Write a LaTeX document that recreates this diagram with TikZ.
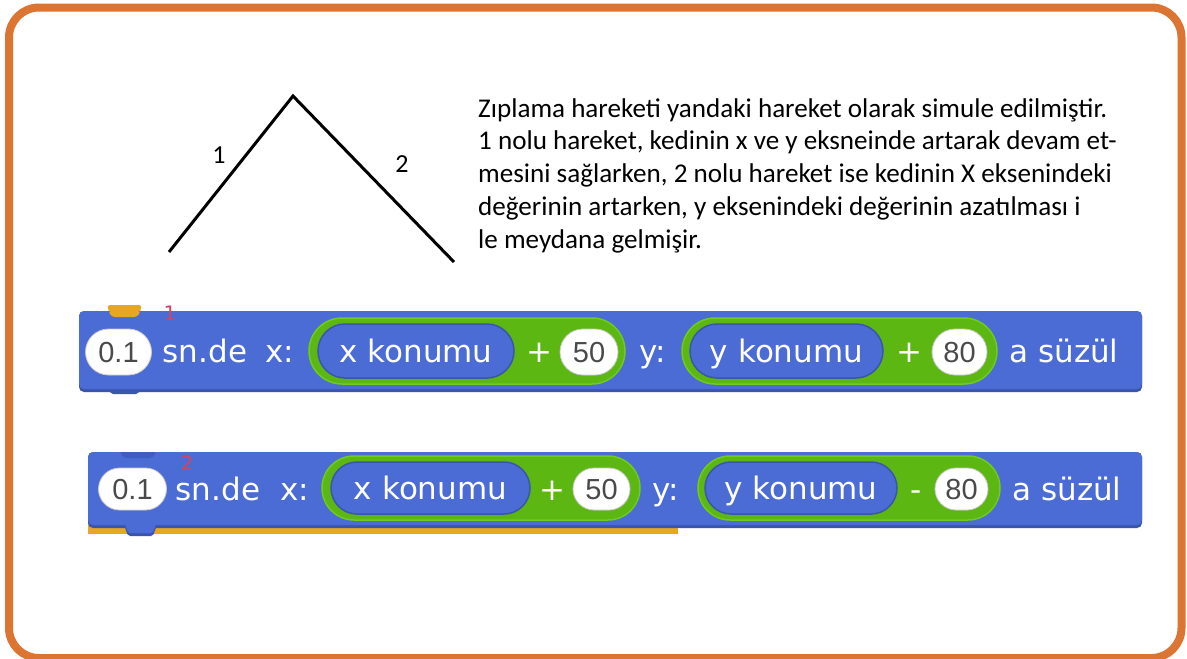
\documentclass[tikz,border=0pt]{standalone}
\usepackage{fontspec}
\setmainfont{Carlito}
\newfontfamily\scr{DejaVu Sans}
\newfontfamily\numf{Liberation Sans}
\definecolor{frameor}{HTML}{DC7532}
\definecolor{sblue}{HTML}{4A6CD4}
\definecolor{sbluedk}{HTML}{3A56AC}
\definecolor{snotch}{HTML}{3F5DC0}
\definecolor{sgreen}{HTML}{5CB712}
\definecolor{sgreenlt}{HTML}{6ECC1E}
\definecolor{syellow}{HTML}{E6A822}
\definecolor{sred}{HTML}{D9425E}
\definecolor{numgray}{HTML}{4A4A4A}
\definecolor{ovalgray}{HTML}{C8C8C8}
\begin{document}
\begin{tikzpicture}[x=1pt,y=-1pt,
  wlab/.style={text=white, font=\scr\fontsize{31}{31}\selectfont, inner sep=0pt, anchor=base},
  numoval/.style={fill=white, draw=ovalgray, line width=0.8pt, inner sep=0pt, text=numgray,
    font=\numf\fontsize{29}{29}\selectfont, text depth=0pt},
  gpill/.style={fill=sgreen, draw=sgreenlt, line width=1.5pt, inner sep=0pt},
  bpill/.style={fill=sblue, draw=sbluedk, line width=1.5pt, inner sep=0pt, text=white,
    font=\scr\fontsize{31}{31}\selectfont, text depth=0pt},
  redlab/.style={text=sred, font=\scr\fontsize{20}{20}\selectfont, inner sep=0pt},
  trilab/.style={font=\fontsize{26}{26}\selectfont, inner sep=0pt},
  desc/.style={inner sep=0pt, anchor=base west}
]
\useasboundingbox (0,0) rectangle (1187,659);
\fill[white] (0,0) rectangle (1187,659);
% frame
\draw[frameor, line width=8pt, rounded corners=30pt] (9,7.5) rectangle (1181.5,658);

% triangle
\coordinate (tl) at (169,252);
\coordinate (tt) at (293,96);
\coordinate (tr) at (454,262);
\draw[line width=3pt] (tl) -- (tt) -- (tr);
\node[trilab] (l1) at (219,155) {1};
\node[trilab] (l2) at (402,164) {2};

% description
\node[desc] (desc) at (478,117) {\parbox[t]{700pt}{\fontsize{27.1}{32.8}\selectfont\raggedright
Zıplama hareketi yandaki hareket olarak simule edilmiştir.\\
1 nolu hareket, kedinin x ve y eksneinde artarak devam et-\\
mesini sağlarken, 2 nolu hareket ise kedinin X eksenindeki\\
değerinin artarken, y eksenindeki değerinin azatılması i\\
le meydana gelmişir.}};

% ---------- block 1 ----------
\fill[syellow, rounded corners=3pt] (107,305) -- (142,305) -- (138,318) -- (111,318) -- cycle;
\fill[sbluedk, rounded corners=5pt] (79,311) rectangle (1142,392);
\fill[sbluedk, rounded corners=2pt] (108,388) -- (141,388) -- (138,394) -- (111,394) -- cycle;
\fill[sblue, rounded corners=5pt] (79,311) rectangle (1142,389);
\fill[syellow, rounded corners=3pt] (108,311) -- (141,311) -- (137,317) -- (112,317) -- cycle;
\node[redlab] (n1) at (170,313) {1};

\node[numoval, rounded corners=23pt, minimum width=66pt, minimum height=46pt] (o1a) at (118.5,352) {0.1};
\node[wlab] (t1a) at (205,362) {sn.de};
\node[wlab] (t1b) at (280,362) {x:};
\node[gpill, rounded corners=33pt, minimum width=316pt, minimum height=66pt] (g1a) at (467,351) {};
\node[bpill, rounded corners=27pt, minimum width=196pt, minimum height=54pt] (r1a) at (416,351) {x konumu};
\node[wlab] (p1a) at (539,362) {+};
\node[numoval, rounded corners=23pt, minimum width=58pt, minimum height=46pt] (o1b) at (589,352) {50};
\node[wlab] (t1c) at (653,362) {y:};
\node[gpill, rounded corners=33pt, minimum width=315pt, minimum height=66pt] (g1b) at (839.5,351) {};
\node[bpill, rounded corners=27pt, minimum width=193pt, minimum height=54pt] (r1b) at (786.5,351) {y konumu};
\node[wlab] (p1b) at (909,362) {+};
\node[numoval, rounded corners=23pt, minimum width=55pt, minimum height=46pt] (o1c) at (959.5,352) {80};
\node[wlab] (t1d) at (1064,362) {a süzül};

% ---------- block 2 ----------
\fill[syellow] (88,520) rectangle (678,534);
\fill[sbluedk, rounded corners=5pt] (88,452) rectangle (1142,528);
\fill[sbluedk, rounded corners=2pt] (124,525) -- (157,525) -- (153,536) -- (128,536) -- cycle;
\fill[sblue, rounded corners=5pt] (88,452) rectangle (1142,525);
\fill[sblue, rounded corners=2pt] (124,520) -- (157,520) -- (153,533) -- (128,533) -- cycle;
\fill[snotch, rounded corners=2pt] (120,452) -- (156,452) -- (152,458) -- (124,458) -- cycle;
\node[redlab] (n2) at (187,463) {2};

\node[numoval, rounded corners=21pt, minimum width=68pt, minimum height=42pt] (o2a) at (132.5,489) {0.1};
\node[wlab] (t2a) at (218,500) {sn.de};
\node[wlab] (t2b) at (295,500) {x:};
\node[gpill, rounded corners=32pt, minimum width=318pt, minimum height=64pt] (g2a) at (481,488) {};
\node[bpill, rounded corners=26pt, minimum width=199pt, minimum height=52pt] (r2a) at (430.5,488) {x konumu};
\node[wlab] (p2a) at (552,500) {+};
\node[numoval, rounded corners=21pt, minimum width=57pt, minimum height=42pt] (o2b) at (601.5,489) {50};
\node[wlab] (t2c) at (666,500) {y:};
\node[gpill, rounded corners=32pt, minimum width=302pt, minimum height=64pt] (g2b) at (849,488) {};
\node[bpill, rounded corners=26pt, minimum width=192pt, minimum height=52pt] (r2b) at (801,488) {y konumu};
\node[wlab] (p2b) at (916,500) {-};
\node[numoval, rounded corners=21pt, minimum width=53pt, minimum height=42pt] (o2c) at (961.5,489) {80};
\node[wlab] (t2d) at (1067,500) {a süzül};
\end{tikzpicture}
\end{document}
